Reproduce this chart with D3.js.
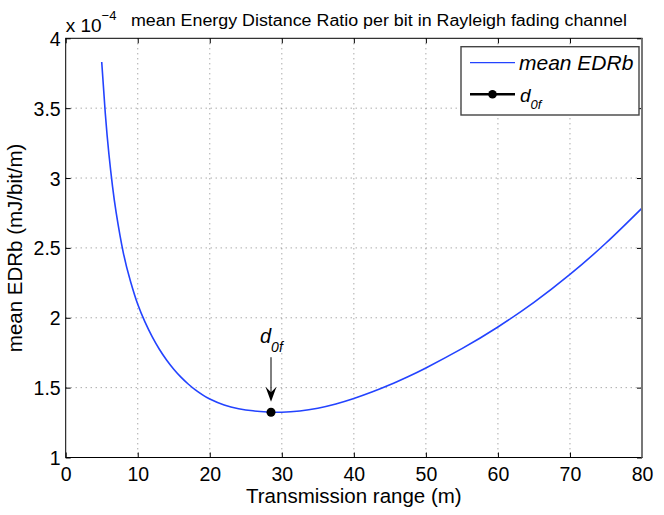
<!DOCTYPE html>
<html>
<head>
<meta charset="utf-8">
<title>mean EDRb</title>
<script src="https://cdn.jsdelivr.net/npm/d3@7"></script>
<style>
    body { margin: 0; background: #fff; }
    text { font-family: "Liberation Sans", Arial, Helvetica, sans-serif; fill: #000; }
    .grid line { stroke: #666; stroke-width: 0.8; stroke-dasharray: 1,4; }
    .axis text { font-size: 19.5px; }
    .axis line { stroke: #000; }
</style>
</head>
<body>
<div id="chart"></div>
<script>
    // values, y in units of 1e-4 mJ/bit/m
    const rangeM = [5, 5.5, 6, 6.5, 7, 8, 9, 10, 11, 12, 13, 14, 15, 16, 17, 18, 19, 20, 22, 24, 26, 28,
        30, 32.5, 35, 37.5, 40, 42.5, 45, 47.5, 50, 55, 60, 65, 70, 75, 80];
    const edrb = [3.83, 3.46, 3.17, 2.94, 2.755, 2.465, 2.26, 2.096, 1.971, 1.865, 1.775, 1.698, 1.632, 1.575, 1.526, 1.484, 1.448, 1.418, 1.375, 1.349, 1.334, 1.326,
        1.324, 1.333, 1.353, 1.383, 1.422, 1.468, 1.52, 1.578, 1.641, 1.779, 1.934, 2.11, 2.31, 2.535, 2.785];
    const d0f = {x: 28.5, y: 1.324};
    const xTicks = [0, 10, 20, 30, 40, 50, 60, 70, 80];
    const yTicks = [1, 1.5, 2, 2.5, 3, 3.5, 4];

    const W = 664, H = 515;
    const margin = {top: 38.3, right: 22, bottom: 57.5, left: 65.7},
        width = W - margin.left - margin.right,
        height = H - margin.top - margin.bottom;

    const svg = d3.select("#chart").append("svg")
        .attr("width", W)
        .attr("height", H);

    const g = svg.append("g")
        .attr("transform", "translate(" + margin.left + "," + margin.top + ")");

    const x = d3.scaleLinear().domain([0, 80]).range([0, width]);
    const y = d3.scaleLinear().domain([1, 4]).range([height, 0]);

    // dotted grid
    const grid = g.append("g").attr("class", "grid");
    grid.selectAll(".gx").data(xTicks.slice(1, -1)).enter().append("line")
        .attr("x1", d => x(d)).attr("x2", d => x(d))
        .attr("y1", 0).attr("y2", height);
    grid.selectAll(".gy").data(yTicks.slice(1, -1)).enter().append("line")
        .attr("x1", 0).attr("x2", width)
        .attr("y1", d => y(d)).attr("y2", d => y(d));

    // ticks point inward like matlab
    g.append("g").attr("class", "axis")
        .attr("transform", "translate(0," + height + ")")
        .call(d3.axisBottom(x).tickValues(xTicks).tickSize(-5).tickPadding(10))
        .call(a => a.select(".domain").remove());
    g.append("g").attr("class", "axis")
        .call(d3.axisTop(x).tickValues(xTicks).tickSize(-5).tickFormat(""))
        .call(a => a.select(".domain").remove());
    g.append("g").attr("class", "axis")
        .call(d3.axisLeft(y).tickValues(yTicks).tickSize(-5).tickPadding(5).tickFormat(d3.format("")))
        .call(a => a.select(".domain").remove())
        .selectAll("text").attr("dy", "0.36em");
    g.append("g").attr("class", "axis")
        .attr("transform", "translate(" + width + ",0)")
        .call(d3.axisRight(y).tickValues(yTicks).tickSize(-5).tickFormat(""))
        .call(a => a.select(".domain").remove());

    // curve
    const line = d3.line()
        .x((d, i) => x(rangeM[i]))
        .y(d => y(d))
        .curve(d3.curveNatural);

    g.append("path")
        .datum(edrb)
        .attr("fill", "none")
        .attr("stroke", "#2343ff")
        .attr("stroke-width", 1.6)
        .attr("d", line);

    // box
    g.append("rect")
        .attr("width", width).attr("height", height)
        .attr("fill", "none").attr("stroke", "#000").attr("stroke-width", 1);
    g.append("line")
        .attr("x1", width).attr("x2", width).attr("y1", 0).attr("y2", height)
        .attr("stroke", "#777").attr("stroke-width", 2);

    // d0f marker + annotation arrow
    const px = x(d0f.x), py = y(d0f.y);
    g.append("circle").attr("cx", px).attr("cy", py).attr("r", 4.5).attr("fill", "#000");
    g.append("line")
        .attr("x1", px).attr("x2", px)
        .attr("y1", py - 55).attr("y2", py - 16)
        .attr("stroke", "#000").attr("stroke-width", 1);
    g.append("path")
        .attr("d", "M" + px + "," + (py - 10.5) + "L" + (px - 5.5) + "," + (py - 25.5) +
            "L" + px + "," + (py - 20) + "L" + (px + 5.5) + "," + (py - 25.5) + "Z")
        .attr("fill", "#000");
    const ann = g.append("text")
        .attr("x", px - 11).attr("y", py - 69)
        .style("font-size", "20px").style("font-style", "italic");
    ann.append("tspan").text("d");
    ann.append("tspan").attr("dy", 9).style("font-size", "14px").text("0f");

    // legend
    const lg = g.append("g").attr("transform", "translate(" + (461 - margin.left) + "," + (46.7 - margin.top) + ")");
    lg.append("rect")
        .attr("width", 178).attr("height", 68.3)
        .attr("fill", "#fff").attr("stroke", "#444").attr("stroke-width", 1.4);
    lg.append("line")
        .attr("x1", 9).attr("x2", 54).attr("y1", 16).attr("y2", 16)
        .attr("stroke", "#2343ff").attr("stroke-width", 1.2);
    lg.append("text")
        .attr("x", 58).attr("y", 23.3)
        .style("font-size", "21px").style("font-style", "italic")
        .text("mean EDRb");
    lg.append("line")
        .attr("x1", 9).attr("x2", 54).attr("y1", 47.6).attr("y2", 47.6)
        .attr("stroke", "#000").attr("stroke-width", 2.5);
    lg.append("circle").attr("cx", 31.5).attr("cy", 47.6).attr("r", 4.3).attr("fill", "#000");
    const lt = lg.append("text")
        .attr("x", 59).attr("y", 55)
        .style("font-size", "19px").style("font-style", "italic");
    lt.append("tspan").text("d");
    lt.append("tspan").attr("dy", 7.5).style("font-size", "13px").text("0f");

    // exponent and title
    const ex = svg.append("text").attr("x", margin.left).attr("y", 31.7).style("font-size", "19px");
    ex.append("tspan").text("x 10");
    ex.append("tspan").attr("dy", -12).style("font-size", "13px").text("\u22124");

    svg.append("text")
        .attr("x", 131).attr("y", 26)
        .attr("textLength", 496).attr("lengthAdjust", "spacingAndGlyphs")
        .style("font-size", "16px")
        .text("mean Energy Distance Ratio per bit in Rayleigh fading channel");

    // axis titles
    svg.append("text")
        .attr("x", margin.left + width / 2).attr("y", 503)
        .style("text-anchor", "middle").style("font-size", "20.5px")
        .text("Transmission range (m)");
    svg.append("text")
        .attr("transform", "translate(22," + (margin.top + height / 2) + ") rotate(-90)")
        .style("text-anchor", "middle").style("font-size", "20.5px")
        .text("mean EDRb (mJ/bit/m)");
</script>
</body>
</html>
